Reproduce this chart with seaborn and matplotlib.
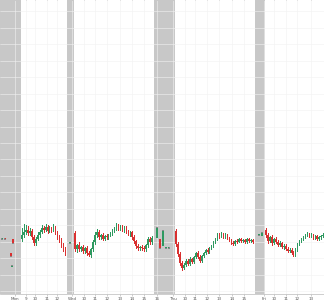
import matplotlib
matplotlib.use("Agg")
import matplotlib.pyplot as plt
import seaborn as sns
import pandas as pd
import numpy as np

# ---------------- data (10-minute candles, x in compressed trading hours) -------------
sessions = ["Mon", "Wed", "Thu", "Fri"]
session_start = [1.86, 6.36, 14.92, 22.54]

mon_open = [145.2,145.6,145.9,146.1,145.8,146.0,145.4,144.8,145.2,145.6,145.9,146.3,146.1,146.4,146.0,146.3,146.1,146.4,145.9,145.4,145.2,144.6,144.2]
mon_close = [145.6,145.9,146.1,145.8,146.0,145.4,144.8,145.2,145.6,145.9,146.3,146.1,146.4,146.0,146.3,146.1,146.4,145.9,145.4,145.2,144.6,144.2,143.9]
mon_high = [146.3,146.7,146.6,146.5,146.3,146.2,145.6,145.4,145.9,146.1,146.6,146.5,146.7,146.6,146.5,146.4,146.7,146.5,146.0,145.6,145.3,144.8,144.4]
mon_low = [145.0,145.4,145.7,145.6,145.6,145.2,144.6,144.6,145.1,145.4,145.8,145.9,146.0,145.8,145.9,145.9,146.0,145.7,145.2,144.9,144.4,144.0,143.6]

wed_open = [145.8,144.2,144.6,144.2,144.4,144.0,144.3,143.8,143.6,144.2,144.9,145.6,145.9,145.4,145.6,145.2,145.5,145.4,145.7,145.8,146.1,146.3,146.5,146.3,146.4,146.1,146.3,146.0,145.7,145.9,145.4,145.0,144.5,144.3,144.4,144.3,144.2,144.6,145.2,144.9]
wed_close = [144.2,144.6,144.2,144.4,144.0,144.3,143.8,143.6,144.2,144.9,145.6,145.9,145.4,145.6,145.2,145.5,145.4,145.7,145.8,146.1,146.3,146.5,146.3,146.4,146.1,146.3,146.0,145.7,145.9,145.4,145.0,144.5,144.3,144.4,144.3,144.2,144.6,145.2,144.9,145.3]
wed_high = [146.0,144.7,144.9,144.5,144.6,144.4,144.5,144.0,144.3,145.1,145.9,146.2,146.1,145.7,145.8,145.6,145.7,145.7,145.9,146.2,146.4,146.8,146.7,146.6,146.6,146.5,146.5,146.1,146.0,146.0,145.6,145.1,144.7,144.5,144.6,144.5,144.7,145.4,145.4,145.5]
wed_low = [144.0,143.9,144.0,144.0,143.8,143.8,143.6,143.5,143.4,144.0,144.7,145.4,145.2,145.2,145.1,145.1,145.2,145.2,145.5,145.6,145.9,146.1,146.1,146.1,146.0,145.9,145.8,145.6,145.5,145.2,144.8,144.3,144.1,144.1,144.1,144.0,144.0,144.4,144.7,144.7]

thu_open = [146.0,144.7,143.7,142.8,142.3,142.6,143.0,142.7,143.2,142.9,143.4,143.8,143.4,143.0,143.5,143.8,144.1,143.9,144.3,144.5,144.9,145.2,145.6,145.5,145.7,145.4,145.6,145.3,145.1,144.8,144.7,145.0,144.9,145.2,145.0,145.1,144.9,145.2,145.0,145.1]
thu_close = [144.7,143.7,142.8,142.3,142.6,143.0,142.7,143.2,142.9,143.4,143.8,143.4,143.0,143.5,143.8,144.1,143.9,144.3,144.5,144.9,145.2,145.6,145.5,145.7,145.4,145.6,145.3,145.1,144.8,144.7,145.0,144.9,145.2,145.0,145.1,144.9,145.2,145.0,145.1,144.9]
thu_high = [146.2,144.9,143.9,143.0,142.8,143.2,143.2,143.4,143.3,143.5,143.9,144.0,143.6,143.6,143.9,144.2,144.3,144.4,144.6,145.0,145.3,145.8,145.8,145.9,145.8,145.8,145.7,145.4,145.2,145.0,145.1,145.2,145.3,145.3,145.2,145.2,145.3,145.3,145.2,145.2]
thu_low = [144.5,143.5,142.6,142.1,142.2,142.5,142.6,142.6,142.8,142.8,143.3,143.3,142.9,142.9,143.4,143.7,143.8,143.8,144.2,144.4,144.8,145.1,145.3,145.4,145.3,145.3,145.2,145.0,144.7,144.6,144.6,144.8,144.9,144.9,144.9,144.8,144.8,144.9,144.9,144.8]

fri_open = [146.1,145.6,145.0,145.4,144.8,145.2,144.9,144.6,144.8,144.4,144.5,144.2,144.0,144.1,143.8,143.6,144.2,144.7,145.0,145.2,145.4,145.6,145.7,145.5,145.6,145.3,145.5,145.2,145.4,145.5]
fri_close = [145.6,145.0,145.4,144.8,145.2,144.9,144.6,144.8,144.4,144.5,144.2,144.0,144.1,143.8,143.6,144.2,144.7,145.0,145.2,145.4,145.6,145.7,145.5,145.6,145.3,145.5,145.2,145.4,145.5,145.6]
fri_high = [146.3,145.8,145.5,145.6,145.3,145.4,145.1,145.0,144.9,144.7,144.7,144.4,144.3,144.3,144.0,144.3,144.8,145.1,145.3,145.5,145.7,145.9,145.8,145.8,145.7,145.6,145.6,145.5,145.6,145.8]
fri_low = [145.4,144.8,144.9,144.6,144.7,144.8,144.5,144.5,144.3,144.2,144.1,143.9,143.9,143.7,143.5,143.5,144.0,144.6,144.9,145.1,145.3,145.5,145.4,145.4,145.2,145.2,145.1,145.1,145.2,145.4]

# extended-hours trades (inside shaded off-session bands)
ext_x = [0.20, 0.45, 0.93, 1.02, 1.10, 5.93, 13.30, 13.56, 13.81, 14.07, 14.30, 21.95, 22.20]
ext_open = [145.2, 145.3, 143.8, 142.4, 145.2, 144.8, 145.3, 145.2, 144.5, 144.3, 144.3, 145.6, 145.5]
ext_close = [145.2, 145.2, 143.5, 142.5, 144.8, 144.8, 146.3, 144.3, 146.0, 144.3, 144.3, 145.6, 145.8]

# off-session shaded bands
off_start = [0.0, 5.68, 13.05, 21.61]
off_end = [1.78, 6.27, 14.83, 22.46]

# tick labels
tick_pos = [1.28, 2.2, 2.97, 3.98, 4.83,
            6.1, 7.12, 8.05, 9.07, 10.17, 11.19, 12.2, 13.3,
            14.66, 15.68, 16.53, 17.54, 18.56, 19.66, 20.68,
            22.37, 23.22, 24.24, 25.17, 26.36]
tick_lab = ["Mon", "9", "10", "11", "12",
            "Wed", "10", "11", "12", "13", "14", "15", "16",
            "Thu", "10", "11", "12", "13", "14", "15",
            "Fri", "10", "11", "12", "13"]

# ---------------- build table ----------------
sets = {
    "Mon": (mon_open, mon_high, mon_low, mon_close),
    "Wed": (wed_open, wed_high, wed_low, wed_close),
    "Thu": (thu_open, thu_high, thu_low, thu_close),
    "Fri": (fri_open, fri_high, fri_low, fri_close),
}
rows = []
for s, start in zip(sessions, session_start):
    o, h, l, c = sets[s]
    for i in range(len(o)):
        rows.append(dict(day=s, x=start + i / 6.0, open=o[i], high=h[i], low=l[i], close=c[i]))
df = pd.DataFrame(rows)

GREEN = "#2e9960"
RED = "#d93030"
up = (df["close"] >= df["open"]).to_numpy()
cols = [GREEN if u else RED for u in up]
xs = df["x"].to_numpy()
lo_b = np.minimum(df["open"].to_numpy(), df["close"].to_numpy())
hi_b = np.maximum(df["open"].to_numpy(), df["close"].to_numpy())

ext = pd.DataFrame(dict(x=ext_x, open=ext_open, close=ext_close))
eup = (ext["close"] >= ext["open"]).to_numpy()
ecols = [GREEN if u else RED for u in eup]

# ---------------- plot ----------------
sns.set_theme(style="white")
plt.rcParams["font.family"] = ["DejaVu Sans"]
fig = plt.figure(figsize=(3.24, 3.01), dpi=100)
ax = fig.add_axes([0.0, 7 / 301, 1.0, 1 - 7 / 301])

for a, b in zip(off_start, off_end):
    ax.axvspan(a, b, color="#c8c8c8", lw=0, zorder=0)

# wicks
ax.vlines(xs, df["low"].to_numpy(), df["high"].to_numpy(), colors=cols,
          linewidths=0.7, zorder=2, capstyle="butt", antialiased=False)
# bodies
ax.bar(xs, np.maximum(hi_b - lo_b, 0.1), bottom=lo_b, width=0.1,
       color=cols, linewidth=0, zorder=3, antialiased=False)
# extended-hours prints
elo = np.minimum(ext["open"].to_numpy(), ext["close"].to_numpy())
ehi = np.maximum(ext["open"].to_numpy(), ext["close"].to_numpy())
ax.bar(ext["x"].to_numpy(), np.maximum(ehi - elo, 0.1), bottom=elo, width=0.1,
       color=ecols, linewidth=0, zorder=3, antialiased=False)
sns.scatterplot(x=ext["x"], y=ext["close"], color="#888888", s=1.5,
                marker="s", linewidth=0, legend=False, ax=ax, zorder=2)

ax.set_xlim(0, 27.46)
ax.set_ylim(139.7, 169.2)
ax.set_xticks(tick_pos)
ax.set_xticklabels(tick_lab, fontsize=3.0, color="#555555")
ax.set_yticks(np.arange(140.0, 169.2, 1.65))
ax.set_yticklabels([])
ax.tick_params(axis="x", length=1.5, width=0.4, pad=0.4, color="#aaaaaa",
               top=True, bottom=True, direction="out")
ax.tick_params(axis="y", length=0)
ax.grid(True, color="#f2f2f2", lw=0.4, zorder=1)
ax.set_axisbelow(True)
ax.set_xlabel("")
ax.set_ylabel("")
for sp in ["left", "right", "top"]:
    ax.spines[sp].set_visible(False)
ax.spines["bottom"].set_color("#bbbbbb")
ax.spines["bottom"].set_linewidth(0.5)

fig.savefig("out.png", dpi=100)
